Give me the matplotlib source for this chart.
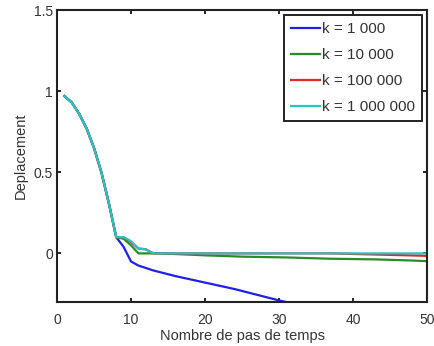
import matplotlib.pyplot as plt

# shared descent (identical for all k)
steps_head = [1, 2, 3, 4, 5, 6, 7, 8]
disp_head = [0.97, 0.93, 0.86, 0.77, 0.65, 0.50, 0.31, 0.10]

steps_k1e3 = [9, 10, 11, 13, 16, 20, 24, 27, 30, 32]
disp_k1e3 = [0.04, -0.05, -0.075, -0.105, -0.14, -0.18, -0.22, -0.255, -0.29, -0.31]

steps_k1e4 = [9, 10, 11, 14, 20, 25, 31, 37, 43, 48, 50]
disp_k1e4 = [0.09, 0.05, 0.0, 0.0, -0.012, -0.02, -0.025, -0.033, -0.037, -0.044, -0.048]

steps_k1e5 = [9, 10, 11, 12, 13, 37, 50]
disp_k1e5 = [0.10, 0.07, 0.03, 0.025, 0.0, 0.0, -0.015]

steps_k1e6 = [9, 10, 11, 12, 13, 50]
disp_k1e6 = [0.10, 0.075, 0.03, 0.025, 0.0, 0.0]

labels = ['k = 1 000', 'k = 10 000', 'k = 100 000', 'k = 1 000 000']
colors = ['#1f1fe6', '#2a8a2a', '#e02626', '#26c4c4']

plt.rcParams['font.family'] = ['Liberation Sans', 'DejaVu Sans']

fig = plt.figure(figsize=(4.35, 3.46), dpi=100)
ax = fig.add_axes([0.131, 0.127, 0.851, 0.844])

series = [(steps_k1e3, disp_k1e3), (steps_k1e4, disp_k1e4),
          (steps_k1e5, disp_k1e5), (steps_k1e6, disp_k1e6)]
for (xs, ys), lab, col in zip(series, labels, colors):
    ax.plot(steps_head + xs, disp_head + ys, color=col, lw=1.6, label=lab)

ax.set_xlim(0, 50)
ax.set_ylim(-0.3, 1.5)
ax.set_xticks([0, 10, 20, 30, 40, 50])
ax.set_yticks([0, 0.5, 1, 1.5])
ax.set_yticklabels(['0', '0.5', '1', '1.5'])
ax.tick_params(direction='in', top=True, right=True, length=3, width=1.2,
               labelsize=10, labelcolor='#333333')
ax.tick_params(axis='x', pad=8)
ax.tick_params(axis='y', pad=3)
for s in ax.spines.values():
    s.set_linewidth(1.5)
    s.set_color('#222222')

ax.set_xlabel('Nombre de pas de temps', fontsize=10.5, color='#333333', labelpad=1)
ax.set_ylabel('Deplacement', fontsize=10.5, color='#333333', labelpad=4)

leg = ax.legend(loc='upper right', fontsize=11, handlelength=1.9,
                handletextpad=0.15, borderaxespad=0.35, labelspacing=0.78,
                fancybox=False, framealpha=1, edgecolor='#222222',
                borderpad=0.45)
leg.get_frame().set_linewidth(1.4)
for t in leg.get_texts():
    t.set_color('#333333')

fig.savefig('out.png', dpi=100)
